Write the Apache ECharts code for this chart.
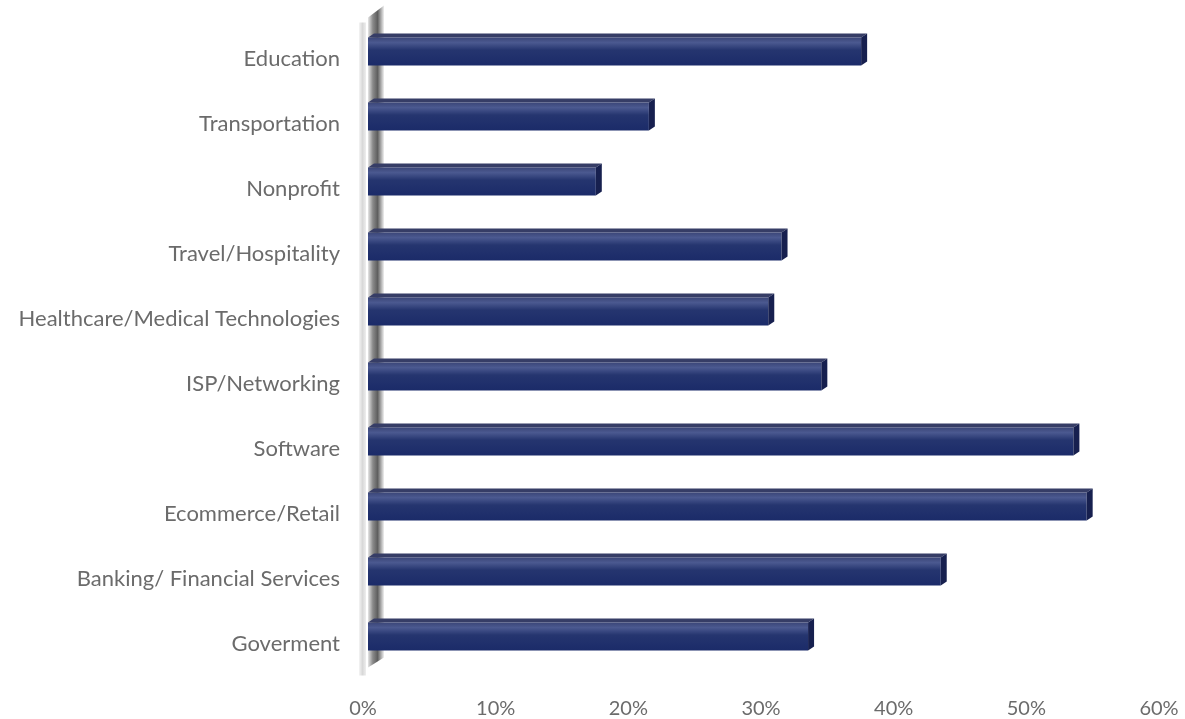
<!DOCTYPE html>
<html>
<head>
<meta charset="utf-8">
<script src="https://cdn.jsdelivr.net/npm/echarts@6/dist/echarts.min.js"></script>
<style>
html,body{margin:0;padding:0;background:#fff;}
#chart{width:1185px;height:719px;}
</style>
</head>
<body>
<div id="chart"></div>
<script>
const categories = ['Education','Transportation','Nonprofit','Travel/Hospitality','Healthcare/Medical Technologies','ISP/Networking','Software','Ecommerce/Retail','Banking/ Financial Services','Goverment'];
const values = [38, 22, 18, 32, 31, 35, 54, 55, 44, 34];
const xTicks = [0, 10, 20, 30, 40, 50, 60];

const chart = echarts.init(document.getElementById('chart'));
const FONT = 'Lato, "Open Sans", sans-serif';
const DEPTH_X = 6, DEPTH_Y = 4, START_PAD = 5;

function renderBar(params, api) {
  const cat = api.value(0);
  const v = api.value(1);
  const base = api.coord([0, cat]);
  const tip = api.coord([v, cat]);
  const band = api.size([0, 1])[1];
  const h = band * 0.49;
  const yc = base[1];
  const y0 = yc - h / 2, y1 = yc + h / 2;
  const xs = base[0] + START_PAD;
  const xe = tip[0];
  return {
    type: 'group',
    children: [
      { type: 'polygon', shape: { points: [[xs, y0 + DEPTH_Y], [xs + DEPTH_X, y0], [xe, y0], [xe - DEPTH_X, y0 + DEPTH_Y]] },
        style: { fill: '#363d66' } },
      { type: 'rect', shape: { x: xs, y: y0 + DEPTH_Y, width: xe - DEPTH_X - xs, height: y1 - y0 - DEPTH_Y },
        style: { fill: new echarts.graphic.LinearGradient(0, 0, 0, 1, [
          { offset: 0, color: '#3b4678' }, { offset: 0.18, color: '#4b5990' },
          { offset: 0.45, color: '#25356f' }, { offset: 1, color: '#1b2b69' }]) } },
      { type: 'polygon', shape: { points: [[xe - DEPTH_X, y0 + DEPTH_Y], [xe, y0], [xe, y1 - DEPTH_Y], [xe - DEPTH_X, y1]] },
        style: { fill: '#17204f' } }
    ]
  };
}

const option = {
  backgroundColor: '#ffffff',
  animation: false,
  grid: { left: 363, right: 26, top: 17, height: 653, containLabel: false },
  xAxis: {
    type: 'value', min: xTicks[0], max: xTicks[xTicks.length - 1], interval: xTicks[1] - xTicks[0],
    axisLine: { show: false }, axisTick: { show: false }, splitLine: { show: false },
    axisLabel: { color: '#6b6b6b', fontSize: 20, fontFamily: FONT, margin: 32, formatter: v => v + '%' }
  },
  yAxis: {
    type: 'category', data: categories, inverse: true,
    axisLine: { show: false }, axisTick: { show: false },
    axisLabel: { color: '#6b6b6b', fontSize: 22, fontFamily: FONT, margin: 23, verticalAlign: 'top', lineHeight: 18 }
  },
  series: [{
    type: 'custom', renderItem: renderBar, z: 10,
    encode: { x: 1, y: 0 },
    data: values.map((v, i) => [i, v])
  }]
};
chart.setOption(option);

// 3D side wall, positioned from the axes
const pTop = chart.convertToPixel({ gridIndex: 0 }, [0, 0]);
const pBot = chart.convertToPixel({ gridIndex: 0 }, [0, categories.length - 1]);
const wx = pTop[0];
const wallTop = pTop[1] - 42, wallBot = pBot[1] + 31;
chart.setOption({
  graphic: [
    { type: 'polygon', z: 1, shape: { points: [[wx - 4, wallTop + 15], [wx + 3, wallTop + 15], [wx + 3, wallBot + 10], [wx - 4, wallBot + 10]] },
      style: { fill: new echarts.graphic.LinearGradient(0, 0, 1, 0, [
        { offset: 0, color: '#f4f4f4' }, { offset: 0.5, color: '#d8d8d8' }, { offset: 1, color: '#eeeeee' }]) } },
    { type: 'polygon', z: 2, shape: { points: [[wx + 5, wallTop + 10], [wx + 21, wallTop - 2], [wx + 21, wallBot - 8], [wx + 5, wallBot + 2]] },
      style: { fill: new echarts.graphic.LinearGradient(0, 0, 1, 0, [
        { offset: 0, color: '#e6e6e6' }, { offset: 0.3, color: '#8a8a8a' }, { offset: 0.6, color: '#5e5e5e' }, { offset: 1, color: '#f0f0f0' }]) } }
  ]
});
</script>
</body>
</html>
